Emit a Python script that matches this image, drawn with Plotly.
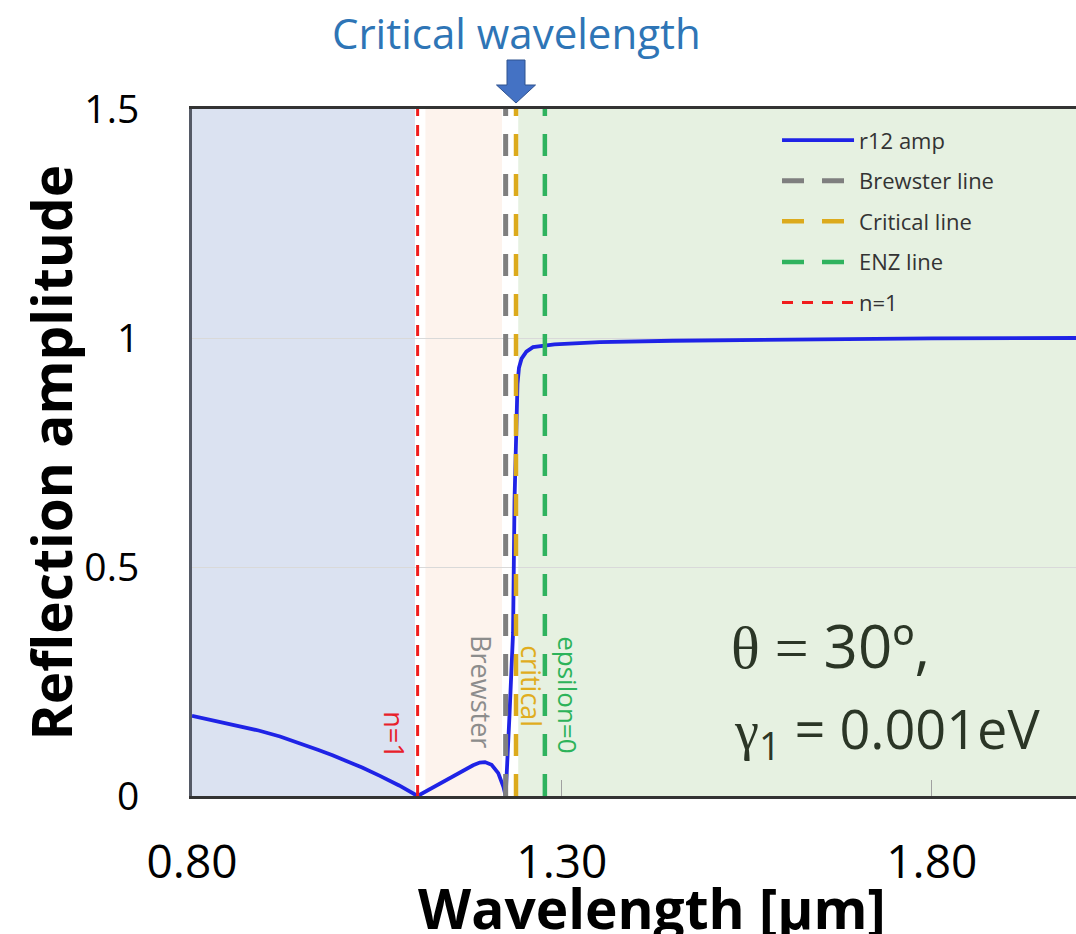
import plotly.graph_objects as go

# ---------------- data ----------------
wavelength = [0.800, 0.830, 0.860, 0.890, 0.919, 0.945, 0.970, 0.990, 1.009, 1.030,
              1.054, 1.080, 1.105, 1.125, 1.144, 1.165, 1.180, 1.189, 1.196, 1.205,
              1.214, 1.221, 1.224, 1.229, 1.234, 1.236, 1.238, 1.240, 1.242, 1.2455,
              1.252, 1.261, 1.290, 1.351, 1.450, 1.622, 1.800, 1.995]
r12_amp = [0.175, 0.165, 0.155, 0.143, 0.130, 0.116, 0.101, 0.089, 0.077, 0.062,
           0.044, 0.023, 0.000, 0.018, 0.035, 0.055, 0.067, 0.073, 0.074, 0.068,
           0.050, 0.020, 0.000, 0.170, 0.356, 0.646, 0.800, 0.900, 0.935, 0.955,
           0.970, 0.980, 0.986, 0.991, 0.994, 0.997, 0.999, 1.000]

brewster_wl = 1.224
critical_wl = 1.238
enz_wl = 1.277
n1_wl = 1.105

x_range = [0.8, 1.995]
y_range = [0, 1.5]
x_tickvals = [0.80, 1.30, 1.80]
x_ticktext = ["0.80", "1.30", "1.80"]
y_tickvals = [0, 0.5, 1, 1.5]
y_ticktext = ["0", "0.5", "1", "1.5"]

# region boundaries (wavelength)
region_blue = [0.8, 1.1015]
region_peach = [1.1155, 1.219]
region_green = [1.241, 1.995]

FONT = "Open Sans"

fig = go.Figure()

fig.add_trace(go.Scatter(x=wavelength, y=r12_amp, mode="lines", name="r12 amp",
                         line=dict(color="#1f23e6", width=3.8), legendgroup="a"))
fig.add_trace(go.Scatter(x=[brewster_wl, brewster_wl], y=y_range, mode="lines",
                         name="Brewster line", legendgroup="b",
                         line=dict(color="#7f7f7f", width=5, dash="22px,18px")))
fig.add_trace(go.Scatter(x=[critical_wl, critical_wl], y=y_range, mode="lines",
                         name="Critical line", legendgroup="c",
                         line=dict(color="#dcaa1c", width=4.5, dash="22px,18px")))
fig.add_trace(go.Scatter(x=[enz_wl, enz_wl], y=y_range, mode="lines",
                         name="ENZ line", legendgroup="d",
                         line=dict(color="#2fb35e", width=4.5, dash="22px,18px")))
fig.add_trace(go.Scatter(x=[n1_wl, n1_wl], y=y_range, mode="lines",
                         name="n=1", legendgroup="e",
                         line=dict(color="#f01c1c", width=3, dash="11px,9px")))

# background regions
for (x0, x1), col in [(region_blue, "#dbe2f1"), (region_peach, "#fdf3ed"),
                      (region_green, "#e6f1e1")]:
    fig.add_shape(type="rect", xref="x", yref="y", x0=x0, x1=x1, y0=y_range[0], y1=y_range[1],
                  fillcolor=col, line_width=0, layer="below")

# block arrow above critical wavelength (paper-referenced so it is not clipped)
arrow_xpaper = (critical_wl - x_range[0]) / (x_range[1] - x_range[0])
fig.add_shape(type="path", xref="paper", yref="paper", xsizemode="pixel", ysizemode="pixel",
              xanchor=arrow_xpaper, yanchor=1,
              path="M -9,49 L 9,49 L 9,24 L 19.5,24 L 0,6 L -19.5,24 L -9,24 Z",
              fillcolor="#4472c4", line=dict(color="#2f528f", width=1), layer="above")

annotations = [
    dict(text="Critical wavelength", xref="x", x=critical_wl, yref="paper", y=1,
         yshift=77, xanchor="center", yanchor="middle", showarrow=False,
         font=dict(family=FONT, size=42, color="#2e75b6")),
    dict(text="n=1", xref="x", x=1.0743, yref="y", y=0.133, textangle=90,
         showarrow=False, font=dict(family=FONT, size=27, color="#e8202a")),
    dict(text="Brewster", xref="x", x=1.1919, yref="y", y=0.227, textangle=90,
         showarrow=False, font=dict(family=FONT, size=27, color="#8c8c8c")),
    dict(text="critical", xref="x", x=1.2595, yref="y", y=0.240, textangle=90,
         showarrow=False, font=dict(family=FONT, size=27, color="#e0ad1e")),
    dict(text="epsilon=0", xref="x", x=1.308, yref="y", y=0.2205, textangle=90,
         showarrow=False, font=dict(family=FONT, size=26, color="#2db35a")),
    dict(text="<span style='font-family:Liberation Serif'>θ = </span>30º,",
         xref="x", x=1.5265, yref="y", y=0.33, xanchor="left", yanchor="middle",
         showarrow=False, font=dict(family=FONT, size=60, color="#2b3626")),
    dict(text="<span style='font-family:Liberation Serif'>γ</span><sub>1</sub> = 0.001eV",
         xref="x", x=1.530, yref="y", y=0.142, xanchor="left", yanchor="middle",
         showarrow=False, font=dict(family=FONT, size=54, color="#2b3626")),
    dict(text="<b>Wavelength [μm]</b>", xref="paper", x=0.52, yref="paper", y=0,
         yshift=-111, xanchor="center", yanchor="middle", showarrow=False,
         font=dict(family=FONT, size=55, color="#000000")),
    dict(text="<b>Reflection amplitude</b>", xref="paper", x=0, xshift=-142,
         yref="paper", y=0.5, textangle=-90, xanchor="center", yanchor="middle",
         showarrow=False, font=dict(family=FONT, size=55, color="#000000")),
]

fig.update_layout(
    width=1076, height=934,
    margin=dict(l=192, r=0, t=109, b=138),
    paper_bgcolor="white", plot_bgcolor="white",
    annotations=annotations,
    showlegend=True,
    legend=dict(x=0.6618, y=0.985, xanchor="left", yanchor="top",
                bgcolor="rgba(0,0,0,0)", tracegroupgap=9, traceorder="grouped",
                itemwidth=72, font=dict(family=FONT, size=22, color="#333333")),
    xaxis=dict(range=x_range, tickvals=x_tickvals, ticktext=x_ticktext,
               showgrid=False, zeroline=False, showline=True, linecolor="#333333",
               linewidth=3, mirror=True, ticks="inside", ticklen=16, tickcolor="#a0a0a0",
               tickwidth=1, ticklabelstandoff=24,
               tickfont=dict(family=FONT, size=46, color="#000000")),
    yaxis=dict(range=y_range, tickvals=y_tickvals, ticktext=y_ticktext,
               showgrid=True, gridcolor="#d9d9d9", gridwidth=1, zeroline=False,
               showline=True, linecolor="#555a66", linewidth=3, ticks="",
               ticklabelstandoff=42,
               tickfont=dict(family=FONT, size=39, color="#000000")),
)

fig.write_html("out.html")
